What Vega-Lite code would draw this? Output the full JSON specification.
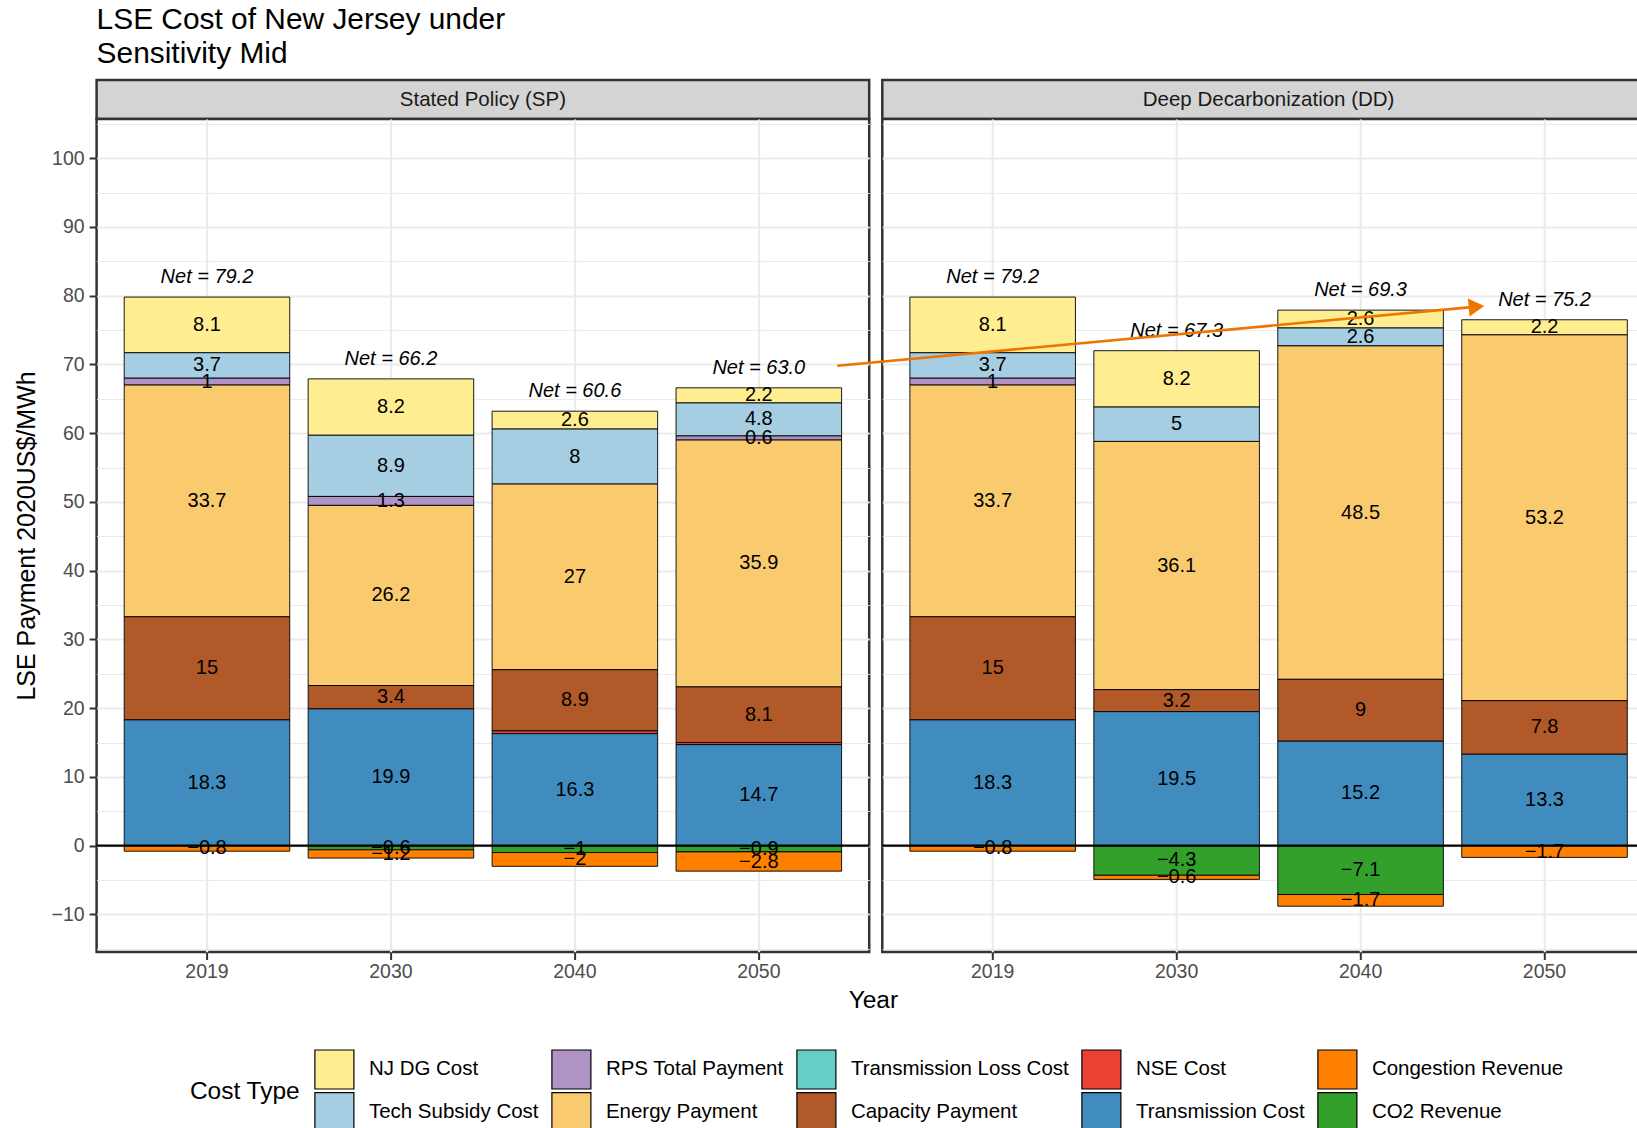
{
  "$schema": "https://vega.github.io/schema/vega-lite/v6.json",
  "background": "white",
  "padding": {"left": 12.6, "top": 4, "right": 0, "bottom": 0},
  "title": {"text": ["LSE Cost of New Jersey under", "Sensitivity Mid"], "anchor": "start", "frame": "group", "fontSize": 29.9, "fontWeight": "normal", "color": "black", "lineHeight": 34, "offset": 10},
  "datasets": {
    "costs": [
      {"scenario": "SP", "year": "2019", "type": "NJ DG Cost", "value": 8.1},
      {"scenario": "SP", "year": "2019", "type": "Tech Subsidy Cost", "value": 3.7},
      {"scenario": "SP", "year": "2019", "type": "RPS Total Payment", "value": 1},
      {"scenario": "SP", "year": "2019", "type": "Energy Payment", "value": 33.7},
      {"scenario": "SP", "year": "2019", "type": "Capacity Payment", "value": 15},
      {"scenario": "SP", "year": "2019", "type": "Transmission Cost", "value": 18.3},
      {"scenario": "SP", "year": "2019", "type": "Congestion Revenue", "value": -0.8},
      {"scenario": "SP", "year": "2030", "type": "NJ DG Cost", "value": 8.2},
      {"scenario": "SP", "year": "2030", "type": "Tech Subsidy Cost", "value": 8.9},
      {"scenario": "SP", "year": "2030", "type": "RPS Total Payment", "value": 1.3},
      {"scenario": "SP", "year": "2030", "type": "Energy Payment", "value": 26.2},
      {"scenario": "SP", "year": "2030", "type": "Capacity Payment", "value": 3.4},
      {"scenario": "SP", "year": "2030", "type": "Transmission Cost", "value": 19.9},
      {"scenario": "SP", "year": "2030", "type": "CO2 Revenue", "value": -0.6},
      {"scenario": "SP", "year": "2030", "type": "Congestion Revenue", "value": -1.2},
      {"scenario": "SP", "year": "2040", "type": "NJ DG Cost", "value": 2.6},
      {"scenario": "SP", "year": "2040", "type": "Tech Subsidy Cost", "value": 8},
      {"scenario": "SP", "year": "2040", "type": "Energy Payment", "value": 27},
      {"scenario": "SP", "year": "2040", "type": "Capacity Payment", "value": 8.9},
      {"scenario": "SP", "year": "2040", "type": "NSE Cost", "value": 0.4},
      {"scenario": "SP", "year": "2040", "type": "Transmission Cost", "value": 16.3},
      {"scenario": "SP", "year": "2040", "type": "CO2 Revenue", "value": -1},
      {"scenario": "SP", "year": "2040", "type": "Congestion Revenue", "value": -2},
      {"scenario": "SP", "year": "2050", "type": "NJ DG Cost", "value": 2.2},
      {"scenario": "SP", "year": "2050", "type": "Tech Subsidy Cost", "value": 4.8},
      {"scenario": "SP", "year": "2050", "type": "RPS Total Payment", "value": 0.6},
      {"scenario": "SP", "year": "2050", "type": "Energy Payment", "value": 35.9},
      {"scenario": "SP", "year": "2050", "type": "Capacity Payment", "value": 8.1},
      {"scenario": "SP", "year": "2050", "type": "NSE Cost", "value": 0.3},
      {"scenario": "SP", "year": "2050", "type": "Transmission Cost", "value": 14.7},
      {"scenario": "SP", "year": "2050", "type": "CO2 Revenue", "value": -0.9},
      {"scenario": "SP", "year": "2050", "type": "Congestion Revenue", "value": -2.8},
      {"scenario": "DD", "year": "2019", "type": "NJ DG Cost", "value": 8.1},
      {"scenario": "DD", "year": "2019", "type": "Tech Subsidy Cost", "value": 3.7},
      {"scenario": "DD", "year": "2019", "type": "RPS Total Payment", "value": 1},
      {"scenario": "DD", "year": "2019", "type": "Energy Payment", "value": 33.7},
      {"scenario": "DD", "year": "2019", "type": "Capacity Payment", "value": 15},
      {"scenario": "DD", "year": "2019", "type": "Transmission Cost", "value": 18.3},
      {"scenario": "DD", "year": "2019", "type": "Congestion Revenue", "value": -0.8},
      {"scenario": "DD", "year": "2030", "type": "NJ DG Cost", "value": 8.2},
      {"scenario": "DD", "year": "2030", "type": "Tech Subsidy Cost", "value": 5},
      {"scenario": "DD", "year": "2030", "type": "Energy Payment", "value": 36.1},
      {"scenario": "DD", "year": "2030", "type": "Capacity Payment", "value": 3.2},
      {"scenario": "DD", "year": "2030", "type": "Transmission Cost", "value": 19.5},
      {"scenario": "DD", "year": "2030", "type": "CO2 Revenue", "value": -4.3},
      {"scenario": "DD", "year": "2030", "type": "Congestion Revenue", "value": -0.6},
      {"scenario": "DD", "year": "2040", "type": "NJ DG Cost", "value": 2.6},
      {"scenario": "DD", "year": "2040", "type": "Tech Subsidy Cost", "value": 2.6},
      {"scenario": "DD", "year": "2040", "type": "Energy Payment", "value": 48.5},
      {"scenario": "DD", "year": "2040", "type": "Capacity Payment", "value": 9},
      {"scenario": "DD", "year": "2040", "type": "Transmission Cost", "value": 15.2},
      {"scenario": "DD", "year": "2040", "type": "CO2 Revenue", "value": -7.1},
      {"scenario": "DD", "year": "2040", "type": "Congestion Revenue", "value": -1.7},
      {"scenario": "DD", "year": "2050", "type": "NJ DG Cost", "value": 2.2},
      {"scenario": "DD", "year": "2050", "type": "Energy Payment", "value": 53.2},
      {"scenario": "DD", "year": "2050", "type": "Capacity Payment", "value": 7.8},
      {"scenario": "DD", "year": "2050", "type": "Transmission Cost", "value": 13.3},
      {"scenario": "DD", "year": "2050", "type": "Congestion Revenue", "value": -1.7}
    ],
    "nets": [
      {"key": "SP 2019", "net": 79.2},
      {"key": "SP 2030", "net": 66.2},
      {"key": "SP 2040", "net": 60.6},
      {"key": "SP 2050", "net": 63.0},
      {"key": "DD 2019", "net": 79.2},
      {"key": "DD 2030", "net": 67.3},
      {"key": "DD 2040", "net": 69.3},
      {"key": "DD 2050", "net": 75.2}
    ]
  },
  "columns": 2,
  "spacing": {"row": 0, "column": 12.7},
  "bounds": "flush",
  "resolve": {"scale": {"color": "shared"}, "legend": {"color": "shared"}},
  "concat": [
    {
      "width": 772.6, "height": 39,
      "view": {"fill": "#D4D4D4", "stroke": "#333333", "strokeWidth": 2.5},
      "data": {"values": [{"strip": "Stated Policy (SP)"}]},
      "mark": {"type": "text", "fontSize": 20.5, "color": "#1A1A1A", "baseline": "middle"},
      "encoding": {"text": {"field": "strip", "type": "nominal"}}
    },
    {
      "width": 772.6, "height": 39,
      "view": {"fill": "#D4D4D4", "stroke": "#333333", "strokeWidth": 2.5},
      "data": {"values": [{"strip": "Deep Decarbonization (DD)"}]},
      "mark": {"type": "text", "fontSize": 20.5, "color": "#1A1A1A", "baseline": "middle"},
      "encoding": {"text": {"field": "strip", "type": "nominal"}}
    },
    {
      "width": 772.6, "height": 833,
      "view": {"fill": "white", "stroke": "#333333", "strokeWidth": 2.5},
      "resolve": {"axis": {"y": "independent"}},
      "layer": [
        {
          "data": {"values": [{}]},
          "mark": {"type": "rule", "opacity": 0},
          "encoding": {
            "y": {"datum": 0, "type": "quantitative",
              "scale": {"domain": [-15.46, 105.7], "nice": false, "zero": false},
              "axis": {"orient": "left", "title": null, "labels": false, "ticks": false, "grid": true, "gridWidth": 1.2,
                "values": [-15, -5, 5, 15, 25, 35, 45, 55, 65, 75, 85, 95, 105]}}
          }
        },
        {
          "data": {"name": "costs"},
          "transform": [
            {"filter": "datum.scenario === 'SP'"},
            {"calculate": "indexof(['CO2 Revenue','Congestion Revenue','Transmission Cost','NSE Cost','Capacity Payment','Transmission Loss Cost','Energy Payment','RPS Total Payment','Tech Subsidy Cost','NJ DG Cost'], datum.type)", "as": "rank"},
            {"stack": "value", "groupby": ["year"], "sort": [{"field": "rank", "order": "ascending"}], "as": ["y0", "y1"]}
          ],
          "mark": {"type": "bar", "stroke": "black", "strokeWidth": 0.9},
          "encoding": {
            "x": {"field": "year", "type": "ordinal",
              "scale": {"type": "band", "paddingInner": 0.1, "paddingOuter": 0.15},
              "axis": {"title": "Year", "titleX": 776.3, "titleY": 55.5, "titleAlign": "center", "titleBaseline": "alphabetic", "labelAngle": 0, "bandPosition": 0.5, "grid": true, "gridWidth": 2.2, "labelPadding": 3.5}},
            "y": {"field": "y0", "type": "quantitative",
              "scale": {"domain": [-15.46, 105.7], "nice": false, "zero": false},
              "axis": {"orient": "left", "title": "LSE Payment 2020US$/MWh", "titleFontSize": 25, "titleX": -62.1, "titleY": 416.5, "titleAlign": "center", "titleBaseline": "alphabetic", "titleAngle": -90,
                "values": [-10, 0, 10, 20, 30, 40, 50, 60, 70, 80, 90, 100],
                "labelOverlap": false, "labelPadding": 5, "grid": true, "gridWidth": 2.2}},
            "y2": {"field": "y1"},
            "color": {"field": "type", "type": "nominal",
              "scale": {
                "domain": ["NJ DG Cost", "RPS Total Payment", "Transmission Loss Cost", "NSE Cost", "Congestion Revenue", "Tech Subsidy Cost", "Energy Payment", "Capacity Payment", "Transmission Cost", "CO2 Revenue"],
                "range": ["#FFED91", "#B093C6", "#66CDC7", "#EA4335", "#FF7F00", "#A6CEE3", "#FACB6E", "#B15928", "#418CBF", "#33A02C"]},
              "legend": {"orient": "none", "legendX": 93.3, "legendY": 968.7, "direction": "horizontal", "columns": 5, "title": "Cost Type", "titleOrient": "left", "titleFontSize": 24.5, "titleFontWeight": "normal", "titleColor": "black", "titlePadding": 13, "titleAnchor": "middle", "titleBaseline": "middle", "symbolType": "square", "symbolSize": 1521, "symbolStrokeColor": "black", "symbolStrokeWidth": 1.2, "symbolOpacity": 1, "labelFontSize": 20.5, "labelColor": "black", "labelOffset": 14, "columnPadding": 10, "rowPadding": -5, "labelLimit": 400}}
          }
        },
        {
          "data": {"name": "costs"},
          "transform": [
            {"filter": "datum.scenario === 'SP'"},
            {"calculate": "indexof(['CO2 Revenue','Congestion Revenue','Transmission Cost','NSE Cost','Capacity Payment','Transmission Loss Cost','Energy Payment','RPS Total Payment','Tech Subsidy Cost','NJ DG Cost'], datum.type)", "as": "rank"},
            {"stack": "value", "groupby": ["year"], "sort": [{"field": "rank", "order": "ascending"}], "as": ["y0", "y1"]},
            {"calculate": "(datum.y0 + datum.y1) / 2", "as": "ymid"},
            {"filter": "abs(datum.value) >= 0.5"}
          ],
          "mark": {"type": "text", "fontSize": 20, "color": "black", "baseline": "middle"},
          "encoding": {
            "x": {"field": "year", "type": "ordinal", "scale": {"type": "band", "paddingInner": 0.1, "paddingOuter": 0.15}},
            "y": {"field": "ymid", "type": "quantitative", "axis": null},
            "text": {"field": "value", "type": "quantitative", "format": "~g"}
          }
        },
        {
          "data": {"name": "costs"},
          "transform": [
            {"filter": "datum.scenario === 'SP' && datum.value > 0"},
            {"aggregate": [{"op": "sum", "field": "value", "as": "top"}], "groupby": ["scenario", "year"]},
            {"calculate": "datum.scenario + ' ' + datum.year", "as": "key"},
            {"lookup": "key", "from": {"data": {"name": "nets"}, "key": "key", "fields": ["net"]}},
            {"calculate": "'Net = ' + format(datum.net, '.1f')", "as": "label"}
          ],
          "mark": {"type": "text", "fontSize": 20, "fontStyle": "italic", "color": "black", "baseline": "middle", "dy": -20},
          "encoding": {
            "x": {"field": "year", "type": "ordinal", "scale": {"type": "band", "paddingInner": 0.1, "paddingOuter": 0.15}},
            "y": {"field": "top", "type": "quantitative", "axis": null},
            "text": {"field": "label", "type": "nominal"}
          }
        },
        {
          "data": {"values": [{}]},
          "mark": {"type": "rule", "color": "black", "strokeWidth": 2.2},
          "encoding": {"y": {"datum": 0, "type": "quantitative", "axis": null}}
        }
      ]
    },
    {
      "width": 772.6, "height": 833,
      "view": {"fill": "white", "stroke": "#333333", "strokeWidth": 2.5},
      "resolve": {"scale": {"x": "independent"}, "axis": {"x": "independent", "y": "independent"}},
      "layer": [
        {
          "data": {"values": [{}]},
          "mark": {"type": "rule", "opacity": 0},
          "encoding": {
            "y": {"datum": 0, "type": "quantitative",
              "scale": {"domain": [-15.46, 105.7], "nice": false, "zero": false},
              "axis": {"orient": "left", "title": null, "labels": false, "ticks": false, "grid": true, "gridWidth": 1.2,
                "values": [-15, -5, 5, 15, 25, 35, 45, 55, 65, 75, 85, 95, 105]}}
          }
        },
        {
          "data": {"name": "costs"},
          "transform": [
            {"filter": "datum.scenario === 'DD'"},
            {"calculate": "indexof(['CO2 Revenue','Congestion Revenue','Transmission Cost','NSE Cost','Capacity Payment','Transmission Loss Cost','Energy Payment','RPS Total Payment','Tech Subsidy Cost','NJ DG Cost'], datum.type)", "as": "rank"},
            {"stack": "value", "groupby": ["year"], "sort": [{"field": "rank", "order": "ascending"}], "as": ["y0", "y1"]}
          ],
          "mark": {"type": "bar", "stroke": "black", "strokeWidth": 0.9},
          "encoding": {
            "x": {"field": "year", "type": "ordinal",
              "scale": {"type": "band", "paddingInner": 0.1, "paddingOuter": 0.15},
              "axis": {"title": null, "labelAngle": 0, "bandPosition": 0.5, "grid": true, "gridWidth": 2.2, "labelPadding": 3.5}},
            "y": {"field": "y0", "type": "quantitative",
              "scale": {"domain": [-15.46, 105.7], "nice": false, "zero": false},
              "axis": {"orient": "left", "title": null, "labels": false, "ticks": false, "grid": true, "gridWidth": 2.2,
                "values": [-10, 0, 10, 20, 30, 40, 50, 60, 70, 80, 90, 100]}},
            "y2": {"field": "y1"},
            "color": {"field": "type", "type": "nominal",
              "scale": {
                "domain": ["NJ DG Cost", "RPS Total Payment", "Transmission Loss Cost", "NSE Cost", "Congestion Revenue", "Tech Subsidy Cost", "Energy Payment", "Capacity Payment", "Transmission Cost", "CO2 Revenue"],
                "range": ["#FFED91", "#B093C6", "#66CDC7", "#EA4335", "#FF7F00", "#A6CEE3", "#FACB6E", "#B15928", "#418CBF", "#33A02C"]},
              "legend": {"orient": "none", "legendX": 93.3, "legendY": 968.7, "direction": "horizontal", "columns": 5, "title": "Cost Type", "titleOrient": "left", "titleFontSize": 24.5, "titleFontWeight": "normal", "titleColor": "black", "titlePadding": 13, "titleAnchor": "middle", "titleBaseline": "middle", "symbolType": "square", "symbolSize": 1521, "symbolStrokeColor": "black", "symbolStrokeWidth": 1.2, "symbolOpacity": 1, "labelFontSize": 20.5, "labelColor": "black", "labelOffset": 14, "columnPadding": 10, "rowPadding": -5, "labelLimit": 400}}
          }
        },
        {
          "data": {"name": "costs"},
          "transform": [
            {"filter": "datum.scenario === 'DD'"},
            {"calculate": "indexof(['CO2 Revenue','Congestion Revenue','Transmission Cost','NSE Cost','Capacity Payment','Transmission Loss Cost','Energy Payment','RPS Total Payment','Tech Subsidy Cost','NJ DG Cost'], datum.type)", "as": "rank"},
            {"stack": "value", "groupby": ["year"], "sort": [{"field": "rank", "order": "ascending"}], "as": ["y0", "y1"]},
            {"calculate": "(datum.y0 + datum.y1) / 2", "as": "ymid"},
            {"filter": "abs(datum.value) >= 0.5"}
          ],
          "mark": {"type": "text", "fontSize": 20, "color": "black", "baseline": "middle"},
          "encoding": {
            "x": {"field": "year", "type": "ordinal", "scale": {"type": "band", "paddingInner": 0.1, "paddingOuter": 0.15}, "axis": null},
            "y": {"field": "ymid", "type": "quantitative", "axis": null},
            "text": {"field": "value", "type": "quantitative", "format": "~g"}
          }
        },
        {
          "data": {"name": "costs"},
          "transform": [
            {"filter": "datum.scenario === 'DD' && datum.value > 0"},
            {"aggregate": [{"op": "sum", "field": "value", "as": "top"}], "groupby": ["scenario", "year"]},
            {"calculate": "datum.scenario + ' ' + datum.year", "as": "key"},
            {"lookup": "key", "from": {"data": {"name": "nets"}, "key": "key", "fields": ["net"]}},
            {"calculate": "'Net = ' + format(datum.net, '.1f')", "as": "label"}
          ],
          "mark": {"type": "text", "fontSize": 20, "fontStyle": "italic", "color": "black", "baseline": "middle", "dy": -20},
          "encoding": {
            "x": {"field": "year", "type": "ordinal", "scale": {"type": "band", "paddingInner": 0.1, "paddingOuter": 0.15}, "axis": null},
            "y": {"field": "top", "type": "quantitative", "axis": null},
            "text": {"field": "label", "type": "nominal"}
          }
        },
        {
          "data": {"values": [{}]},
          "mark": {"type": "rule", "color": "black", "strokeWidth": 2.2},
          "encoding": {"y": {"datum": 0, "type": "quantitative", "axis": null}}
        },
        {
          "data": {"values": [{"ax": 0.155, "ay": 69.8}, {"ax": 3.59, "ay": 78.3}]},
          "mark": {"type": "line", "color": "#EE7600", "strokeWidth": 2.6, "clip": false},
          "encoding": {
            "x": {"field": "ax", "type": "quantitative", "scale": {"domain": [0.4, 4.6], "nice": false, "zero": false}, "axis": null},
            "y": {"field": "ay", "type": "quantitative", "axis": null}
          }
        },
        {
          "data": {"values": [{"ax": 3.63, "ay": 78.38}]},
          "mark": {"type": "point", "shape": "triangle-right", "filled": true, "size": 324, "angle": -5.3, "color": "#EE7600", "opacity": 1, "clip": false},
          "encoding": {
            "x": {"field": "ax", "type": "quantitative", "scale": {"domain": [0.4, 4.6], "nice": false, "zero": false}, "axis": null},
            "y": {"field": "ay", "type": "quantitative", "axis": null}
          }
        }
      ]
    }
  ],
  "config": {
    "font": "Liberation Sans",
    "view": {"stroke": null},
    "axis": {"gridColor": "#EBEBEB", "tickColor": "#333333", "tickWidth": 2, "tickSize": 7.5, "labelFontSize": 19.5, "labelColor": "#4D4D4D", "titleFontSize": 24.5, "titleFontWeight": "normal", "titleColor": "black", "domain": false},
    "text": {"font": "Liberation Sans"}
  }
}
